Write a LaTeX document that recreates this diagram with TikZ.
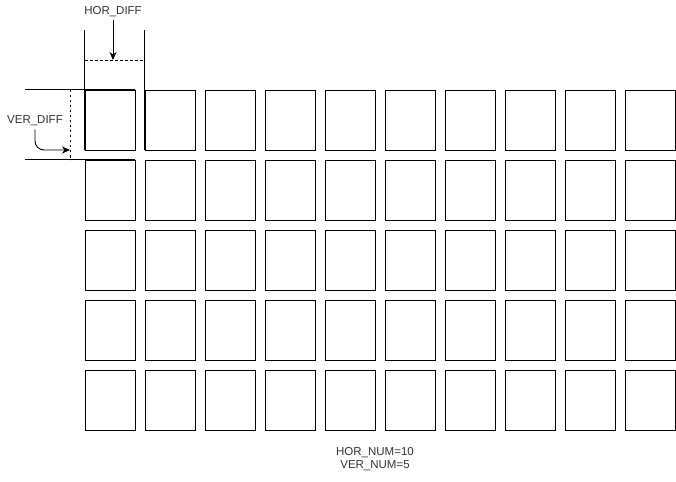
\documentclass[tikz,border=0pt]{standalone}
\usepackage{fontspec}
\setmainfont{Liberation Sans}
\usetikzlibrary{arrows.meta}
\begin{document}
\begin{tikzpicture}[x=1pt,y=-1pt,
  cell/.style={draw,line width=1pt,minimum width=50pt,minimum height=60pt,inner sep=0pt,anchor=north west},
  guide/.style={line width=1pt},
  dimline/.style={line width=0.8pt,dash pattern=on 2.5pt off 2.5pt},
  lbl/.style={font=\fontsize{11.5}{13.5}\selectfont,text=black!80,inner sep=0pt},
  arr/.style={line width=0.9pt,-{Stealth[length=8pt,width=7pt,inset=2.5pt]}}]
\useasboundingbox (0,0) rectangle (676,481);
\foreach \r in {0,...,4}{
  \foreach \c in {0,...,9}{
    \node[cell] (b-\r-\c) at (85+60*\c,90+70*\r) {};
  }
}
% horizontal spacing guides
\coordinate (hl1) at (84.4,30);
\coordinate (hl1e) at (84.4,150);
\coordinate (hl2) at (144.4,30);
\coordinate (hl2e) at (144.4,150);
\draw[guide] (hl1) -- (hl1e);
\draw[guide] (hl2) -- (hl2e);
\coordinate (hd1) at (85,60);
\coordinate (hd2) at (145,60);
\draw[dimline] (hd1) -- (hd2);
\node[lbl] (hordiff) at (113,12) {HOR\_DIFF};
\coordinate (hdt) at (113,60);
\draw[arr] (hordiff.south) ++(0,3) -- (hdt);
% vertical spacing guides
\coordinate (vl1) at (25,89.4);
\coordinate (vl1e) at (135,89.4);
\coordinate (vl2) at (25,159.4);
\coordinate (vl2e) at (135,159.4);
\draw[guide] (vl1) -- (vl1e);
\draw[guide] (vl2) -- (vl2e);
\coordinate (vd1) at (70,90);
\coordinate (vd2) at (70,160);
\draw[dimline] (vd1) -- (vd2);
\node[lbl] (verdiff) at (35,121) {VER\_DIFF};
\coordinate (vdt) at (70,150);
\draw[arr,rounded corners=9pt] (verdiff.south) ++(0,3) |- (vdt);
% numbers
\node[lbl,align=center] (nums) at (375,459) {HOR\_NUM=10\\VER\_NUM=5};
\end{tikzpicture}
\end{document}
